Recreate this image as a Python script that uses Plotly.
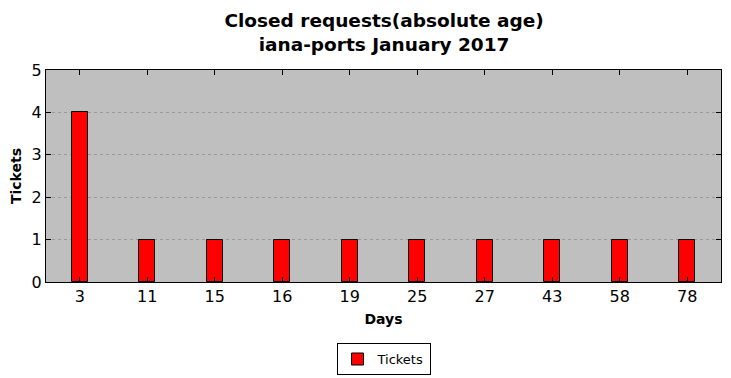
import plotly.graph_objects as go

days = ["3", "11", "15", "16", "19", "25", "27", "43", "58", "78"]
tickets = [4, 1, 1, 1, 1, 1, 1, 1, 1, 1]

fig = go.Figure()
fig.add_trace(go.Bar(
    x=days, y=tickets, name="Tickets",
    marker=dict(color="#ff0000", line=dict(color="black", width=1)),
    width=0.24,
))

fig.update_layout(
    width=715, height=370,
    margin=dict(l=38, r=2, t=62, b=96, autoexpand=False),
    paper_bgcolor="white",
    plot_bgcolor="#bfbfbf",
    font=dict(family="DejaVu Sans", color="black"),
    title=dict(
        text="<b>Closed requests(absolute age)<br>iana-ports January 2017</b>",
        x=0.526, xanchor="center", y=0.949, yanchor="top",
        font=dict(size=18.5),
    ),
    showlegend=True,
    legend=dict(
        orientation="h", x=0.5, xanchor="center", y=-0.288, yanchor="top",
        bordercolor="black", borderwidth=1, font=dict(size=13),
    ),
    bargap=0,
)
fig.update_xaxes(
    type="category", range=[-0.5, 9.5], automargin=False,
    showline=True, linecolor="black", linewidth=1, mirror="ticks",
    ticks="inside", ticklen=5, tickcolor="black",
    showgrid=False, tickfont=dict(size=16),
    title=dict(text="<b>Days</b>", font=dict(size=14), standoff=8),
)
fig.update_yaxes(
    range=[0, 5], dtick=1, automargin=False,
    showline=True, linecolor="black", linewidth=1, mirror="ticks",
    ticks="inside", ticklen=5, tickcolor="black",
    showgrid=True, gridcolor="#999999", griddash="dot", gridwidth=1,
    zeroline=False, tickfont=dict(size=16),
    title=dict(text="<b>Tickets</b>", font=dict(size=14), standoff=6),
)

fig.write_html("out.html")
